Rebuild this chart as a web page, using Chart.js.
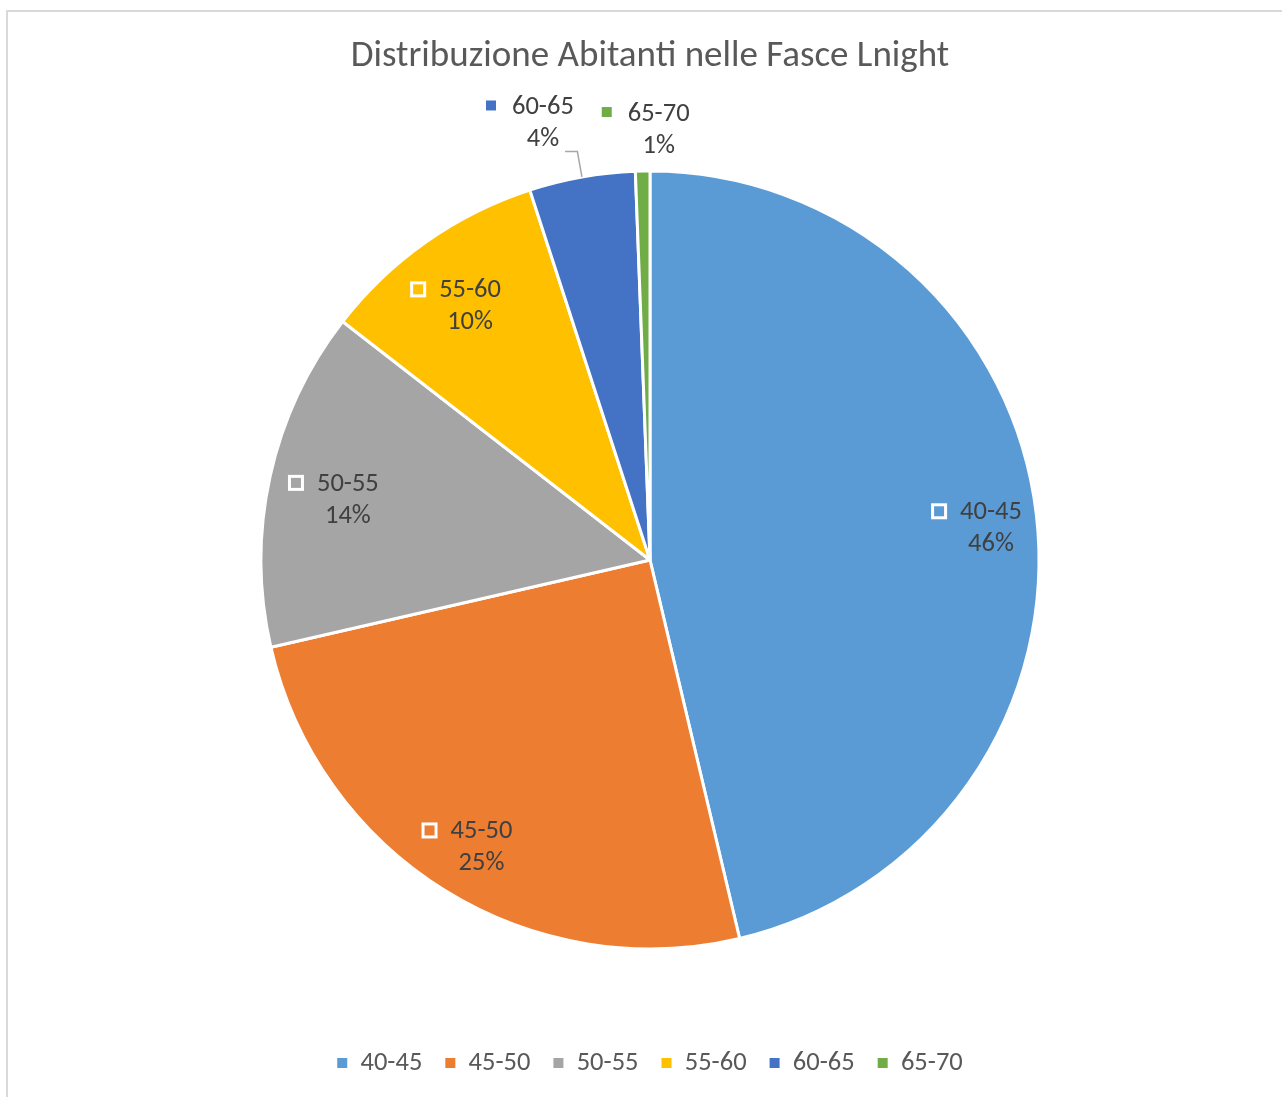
<!DOCTYPE html>
<html>
<head>
<meta charset="utf-8">
<title>Distribuzione Abitanti nelle Fasce Lnight</title>
<script src="https://cdn.jsdelivr.net/npm/chart.js@4.4.1/dist/chart.umd.min.js"></script>
<style>
    html, body { margin: 0; padding: 0; background: #ffffff; overflow: hidden; }
    #frame {
        position: absolute; left: 6px; top: 10px; width: 1400px; height: 1200px;
        border-left: 2px solid #d9d9d9; border-top: 2px solid #d9d9d9;
    }
    #wrap { position: absolute; left: 0; top: 0; width: 1282px; height: 1097px; }
</style>
</head>
<body>
<div id="frame"></div>
<div id="wrap"><canvas id="lnightChart" width="1282" height="1097"></canvas></div>
<script>
// Fasce Lnight (dB) and share of inhabitants (%)
const categories = ['40-45', '45-50', '50-55', '55-60', '60-65', '65-70'];
const shares = [46.3, 25.1, 14.1, 9.5, 4.4, 0.6];
const sliceColors = ['#5B9BD5', '#ED7D31', '#A5A5A5', '#FFC000', '#4472C4', '#70AD47'];

const FONT = 'Calibri, Carlito, Lato, sans-serif';

// where each data label sits: inside (fraction of radius) or outside (offset from rim)
const labelPlacement = [
    { inside: 0.88, dx: 1, dy: 8 },
    { inside: 0.855, dx: 7, dy: 5 },
    { inside: 0.79, dx: -2, dy: 6 },
    { inside: 0.80, dx: -1, dy: 1 },
    { dx: -39, dy: -53.5, leader: true },
    { dx: 16, dy: -41 }
];

/**
 * Excel-like data labels: category name with a legend key, percentage below
 */
const sliceLabels = {
    id: 'sliceLabels',
    afterDatasetsDraw(chart) {
        const ctx = chart.ctx;
        const meta = chart.getDatasetMeta(0);
        const values = chart.data.datasets[0].data;
        const total = values.reduce((a, b) => a + b, 0);

        ctx.save();
        ctx.font = '26.5px ' + FONT;
        ctx.textBaseline = 'middle';
        ctx.textAlign = 'center';

        meta.data.forEach((arc, i) => {
            const p = arc.getProps(['x', 'y', 'startAngle', 'endAngle', 'outerRadius'], true);
            const mid = (p.startAngle + p.endAngle) / 2;
            const place = labelPlacement[i];
            const rimX = p.x + Math.cos(mid) * p.outerRadius;
            const rimY = p.y + Math.sin(mid) * p.outerRadius;
            let cx, cy;

            if (place.inside) {
                cx = p.x + Math.cos(mid) * p.outerRadius * place.inside + place.dx;
                cy = p.y + Math.sin(mid) * p.outerRadius * place.inside + place.dy;
            } else {
                cx = rimX + place.dx;
                cy = rimY + place.dy;
            }

            const name = chart.data.labels[i];
            const pct = Math.round(values[i] / total * 100) + '%';
            const nameW = ctx.measureText(name).width;
            const pctW = ctx.measureText(pct).width;

            ctx.fillStyle = '#404040';
            ctx.fillText(name, cx, cy - 16);
            ctx.fillText(pct, cx, cy + 16);

            // legend key
            if (place.inside) {
                ctx.strokeStyle = '#ffffff';
                ctx.lineWidth = 3;
                ctx.strokeRect(cx - nameW / 2 - 27.5, cy - 16 - 7.5, 13, 13);
            } else {
                ctx.fillStyle = sliceColors[i];
                ctx.fillRect(cx - nameW / 2 - 26, cy - 18 - 5, 10, 10);
            }

            // leader line for the small slice
            if (place.leader) {
                const outX = p.x + Math.cos(mid) * (p.outerRadius + 26);
                const outY = p.y + Math.sin(mid) * (p.outerRadius + 26);
                ctx.strokeStyle = '#a6a6a6';
                ctx.lineWidth = 1.5;
                ctx.beginPath();
                ctx.moveTo(rimX, rimY);
                ctx.lineTo(outX, outY);
                ctx.lineTo(cx + pctW / 2 + 6, outY);
                ctx.stroke();
            }
        });
        ctx.restore();
    }
};

document.addEventListener('DOMContentLoaded', () => {
    const ctx = document.getElementById('lnightChart');
    const baseLabels = Chart.overrides.doughnut.plugins.legend.labels.generateLabels;

    new Chart(ctx, {
        type: 'pie',
        data: {
            labels: categories,
            datasets: [{
                data: shares,
                backgroundColor: sliceColors,
                borderColor: '#ffffff',
                borderWidth: 3
            }]
        },
        options: {
            responsive: false,
            animation: false,
            radius: 389,
            layout: {
                padding: { top: 0, bottom: 10.75, left: 18, right: 0 }
            },
            plugins: {
                title: {
                    display: true,
                    text: 'Distribuzione Abitanti nelle Fasce Lnight',
                    color: '#595959',
                    font: { family: FONT, size: 37, weight: 'normal' },
                    padding: { top: 34.8, bottom: 14 }
                },
                legend: {
                    position: 'bottom',
                    labels: {
                        color: '#595959',
                        font: { family: FONT, size: 26.5 },
                        boxWidth: 10,
                        boxHeight: 10,
                        padding: 23,
                        generateLabels(chart) {
                            const items = baseLabels(chart);
                            items.forEach(item => { item.lineWidth = 0; });
                            return items;
                        }
                    }
                },
                tooltip: { enabled: false }
            }
        },
        plugins: [sliceLabels]
    });
});
</script>
</body>
</html>
